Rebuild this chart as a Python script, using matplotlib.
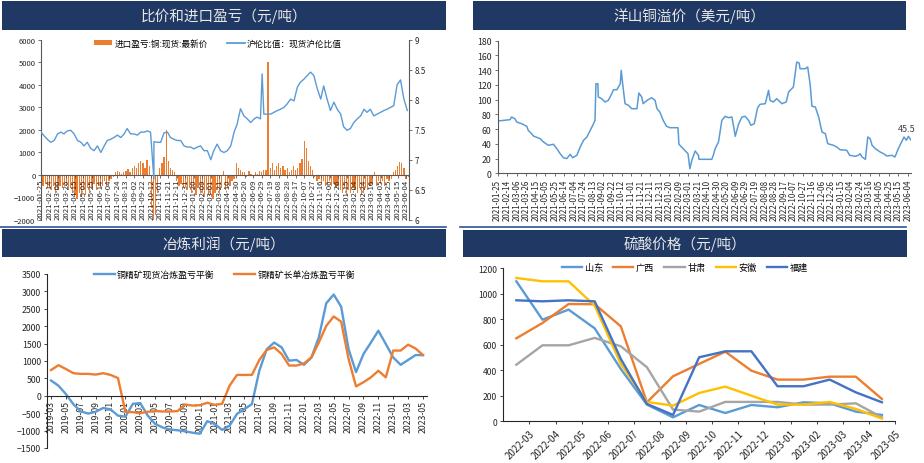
import numpy as np
import pandas as pd
import matplotlib
matplotlib.use('Agg')
import matplotlib.pyplot as plt
from matplotlib.lines import Line2D
from matplotlib.patches import Rectangle, Patch

plt.rcParams['font.family'] = ['Noto Sans CJK SC', 'DejaVu Sans']

# ---------------- data ----------------
# Panel 1: import profit (bars, 5-day samples) and SHFE/LME ratio (line)
profit_start = '2021-01-25'
profit_values = [
    -300, -500, -400, -600, -600, -700, -500, -800, -700, -500, -600, -400,
    -500, -700, -600, -800, -900, -1100, -800, -1000, -700, -900, -600, -800,
    -600, -400, -700, -500, -600, -500, -300, -500, -300, -200, -100, 100,
    150, 100, 50, 100, 150, 250, 100, 300, 400, 300, 500, 600,
    500, 300, 650, 400, -1500, -2000, -1800, -800, 300, 500, 800, 2000,
    600, 300, 200, 100, -300, -500, -400, -600, -500, -700, -600, -800,
    -700, -900, -600, -800, -800, -1000, -700, -900, -900, -1100, -800, -700,
    -800, -600, 150, -700, -600, -500, -300, -200, 500, 300, 200, 100,
    100, -100, 150, 50, -100, 100, 50, 150, 100, 200, 200, 5000,
    300, 500, 200, 400, 500, 300, 400, 200, 300, 100, 200, 400,
    200, 300, 500, 700, 1500, 1200, 600, 400, 200, -100, -300, -200,
    -400, -300, -500, -400, -300, -500, -400, -600, -500, -700, -800, -600,
    -900, -700, -800, -600, -700, -800, -600, -900, -800, -600, -700, -500,
    -400, 100, -500, -300, -400, -300, -500, -200, -300, -200, 100, 200,
    400, 550, 500, 300, -200, -100,
]
ratio_first, ratio_last = '2021-01-25', '2023-06-07'
ratio_values = [
    7.46, 7.40, 7.34, 7.29, 7.32, 7.43, 7.46, 7.43, 7.48, 7.49,
    7.43, 7.32, 7.29, 7.23, 7.29, 7.19, 7.15, 7.23, 7.12, 7.23,
    7.32, 7.34, 7.37, 7.41, 7.37, 7.43, 7.52, 7.43, 7.43, 7.41,
    7.46, 7.46, 7.48, 7.46, 7.30, 7.29, 7.29, 7.45, 7.46, 7.37,
    7.34, 7.32, 7.32, 7.23, 7.21, 7.21, 7.18, 7.21, 7.23, 7.15,
    7.15, 7.00, 7.15, 7.26, 7.15, 7.12, 7.15, 7.23, 7.46, 7.59,
    7.85, 7.73, 7.68, 7.62, 7.68, 7.71, 7.68, 7.76, 7.76, 7.76,
    7.79, 7.82, 7.84, 7.87, 7.93, 8.01, 7.98, 8.21, 8.29, 8.34,
    8.40, 8.46, 8.40, 8.18, 8.01, 8.23, 8.01, 7.82, 7.96, 7.84,
    7.76, 7.55, 7.49, 7.52, 7.62, 7.68, 7.73, 7.84, 7.79, 7.84,
    7.73, 7.76, 7.79, 7.82, 7.84, 7.87, 7.90, 8.25, 8.33, 8.01,
    7.82,
]
ratio_spike_dates = ['2021-10-18', '2022-06-30']
ratio_spike_values = [6.68, 8.43]

# Panel 2: Yangshan copper premium (USD/t)
premium_start = '2021-01-25'
premium_days = [
    0, 26, 29, 36, 40, 50, 61, 64, 71, 75, 89, 96, 106, 117, 124, 131, 138, 145, 152, 157,
    166, 173, 180, 187, 194, 201, 204, 206, 210, 211, 218, 225, 232, 239, 243, 250, 257, 259, 262, 267,
    274, 281, 292, 296, 302, 305, 313, 323, 330, 334, 340, 347, 354, 361, 378, 380, 389, 399, 403, 407,
    414, 421, 422, 433, 449, 452, 456, 463, 470, 477, 484, 491, 495, 498, 505, 512, 519, 526, 531, 538,
    545, 550, 561, 568, 571, 578, 585, 596, 605, 610, 620, 627, 632, 634, 645, 650, 655, 659, 666, 673,
    680, 687, 692, 704, 711, 718, 732, 738, 750, 756, 760, 764, 771, 776, 781, 785, 792, 802, 809, 816,
    827, 833, 840, 847, 852, 857, 861, 866,
]
premium_values = [
    71, 72.8, 76.4, 74, 69.6, 67.4, 63.8, 58.4, 53.8, 50.6, 47, 42.5, 38, 39.4, 33.4, 26.6, 21, 20, 25.8, 21.2,
    24.4, 35.7, 44.8, 49.3, 58.4, 67.3, 71.9, 121.6, 121.6, 103.6, 101.3, 96.8, 99, 108, 113.5, 113.5, 121.6, 139.8, 121.6, 94.5,
    92.3, 87.7, 87.7, 109, 103.6, 94.5, 99, 102.6, 99, 87.7, 83.2, 71.9, 63.8, 61.9, 61.9, 39.4, 33.4, 26.6, 6.3, 17.6,
    30.3, 24.4, 19, 19, 19, 24.4, 33.4, 42.5, 71.9, 77.4, 75.5, 76.4, 62.8, 50.2, 66.5, 76.4, 77.4, 71.9, 65.2, 67.3,
    89, 93.6, 94.5, 112.6, 99, 96.8, 101.3, 94.5, 96.8, 110.4, 117.1, 151, 149.7, 142, 142, 144.3, 121.6, 91, 90, 76.4,
    56, 53.8, 40.2, 38, 35.7, 32, 31.2, 24.4, 23.1, 24.4, 26.6, 22.1, 19, 49.3, 47, 38, 33.4, 28.9, 26.6, 23.5,
    24.4, 22.1, 33.4, 42.5, 49.3, 44.8, 50.2, 45.5,
]

# Panel 3: smelting profit (CNY/t), monthly
smelt_first, smelt_last = '2019-03', '2023-05'
spot_balance = [
    440, 290, 50, -240, -450, -510, -460, -350, -390, -570,
    -600, -230, -210, -570, -810, -910, -970, -990, -1020, -1060,
    -1090, -730, -810, -980, -860, -520, -380, -240, 720, 1340,
    1530, 1390, 1010, 1030, 890, 1100, 1680, 2660, 2910, 2560,
    1340, 680, 1200, 1530, 1870, 1490, 1100, 890, 1030, 1170,
    1170,
]
long_balance = [
    740, 880, 770, 650, 630, 630, 610, 650, 600, 510,
    -460, -470, -500, -460, -440, -450, -450, -440, -250, -280,
    -270, -200, -260, -230, 290, 600, 600, 600, 1030, 1320,
    1390, 1200, 870, 870, 930, 1100, 1530, 2010, 2280, 2130,
    1060, 270, 390, 530, 720, 530, 1300, 1300, 1470, 1360,
    1170,
]

# Panel 4: sulphuric acid prices (CNY/t)
acid_months = ['2022-03', '2022-04', '2022-05', '2022-06', '2022-07', '2022-08', '2022-09', '2022-10',
               '2022-11', '2022-12', '2023-01', '2023-02', '2023-03', '2023-04', '2023-05']
acid_names = ['山东', '广西', '甘肃', '安徽', '福建']
acid_shandong = [1098, 797, 876, 729, 410, 131, 31, 128, 65, 128, 110, 149, 141, 76, 50]
acid_guangxi = [651, 771, 920, 918, 745, 149, 353, 450, 546, 397, 327, 327, 350, 350, 175]
acid_gansu = [444, 596, 596, 654, 588, 424, 92, 76, 152, 152, 152, 131, 131, 141, 31]
acid_anhui = [1124, 1098, 1098, 907, 450, 152, 123, 222, 272, 201, 131, 131, 152, 97, 21]
acid_fujian = [949, 941, 949, 941, 489, 136, 50, 502, 549, 549, 275, 275, 327, 227, 149]

# ---------------- figure ----------------
W, H = 924, 464
fig = plt.figure(figsize=(W / 100, H / 100), dpi=100)
fig.patch.set_facecolor('white')

NAVY = '#1F3864'
BLUE = '#5B9BD5'
ORANGE = '#ED7D31'
GRAY = '#A5A5A5'
YELLOW = '#FFC000'
DBLUE = '#4472C4'
TXT = '#262626'
AX = '#595959'


def rect(l, t, r, b):
    return [l / W, 1 - b / H, (r - l) / W, (b - t) / H]


def title_bar(l, t, r, b, text):
    fig.patches.append(Rectangle((l / W, 1 - b / H), (r - l) / W, (b - t) / H,
                                 transform=fig.transFigure, facecolor=NAVY,
                                 edgecolor='none', zorder=0))
    fig.text((l + r) / 2 / W, 1 - (t + b) / 2 / H, text, color='#E8E8E8',
             fontsize=10.5, ha='center', va='center')


def hline(x0, x1, y, color='#2E5597', lw=1.2):
    fig.add_artist(Line2D([x0 / W, x1 / W], [1 - y / H, 1 - y / H],
                          transform=fig.transFigure, color=color, lw=lw))


title_bar(2, 2, 446, 30.5, '比价和进口盈亏（元/吨）')
title_bar(473, 2, 906, 30.5, '洋山铜溢价（美元/吨）')
title_bar(2, 230.5, 446, 258, '冶炼利润（元/吨）')
title_bar(463, 230.5, 906.5, 257.5, '硫酸价格（元/吨）')
hline(0, 446, 228.3)
hline(460, 906, 228.3)

t0 = pd.Timestamp('2021-01-25')
date_ticks = pd.date_range('2021-01-25', '2023-06-04', freq='20D')
tick_days = (date_ticks - t0).days
tick_labels = date_ticks.strftime('%Y-%m-%d')

# ---------- Panel 1 ----------
ax1 = fig.add_axes(rect(41, 40.7, 409, 220.7))
pdates = pd.date_range(profit_start, periods=len(profit_values), freq='5D')
px = (pdates - t0).days
ax1.bar(px, profit_values, width=3.0, color=ORANGE, linewidth=0, zorder=1)
ax1.set_xlim(0, 867)
ax1.set_ylim(-2000, 6000)
ax1.set_yticks(range(-2000, 6001, 1000))
ax1.tick_params(axis='y', labelsize=5.5, length=2.5, width=0.6, colors=AX, labelcolor=TXT, pad=1.5)
ax1.spines['bottom'].set_position(('data', 0))
for s in ['top', 'right']:
    ax1.spines[s].set_visible(False)
for s in ['left', 'bottom']:
    ax1.spines[s].set_color(AX)
    ax1.spines[s].set_linewidth(0.8)
ax1.set_xticks(tick_days)
ax1.set_xticklabels(tick_labels, rotation=90, fontsize=5.6, color=TXT)
ax1.tick_params(axis='x', length=2, width=0.6, colors=AX, labelcolor=TXT, pad=1)
ax1.patch.set_alpha(0)

ax1b = ax1.twinx()
rdates = pd.to_datetime(np.linspace(pd.Timestamp(ratio_first).value,
                                    pd.Timestamp(ratio_last).value, len(ratio_values)))
ratio = pd.Series(ratio_values, index=rdates)
spk = pd.Series(ratio_spike_values, index=pd.to_datetime(ratio_spike_dates))
ratio = pd.concat([ratio, spk]).sort_index()
ax1b.plot((ratio.index - t0).days, ratio.values, color=BLUE, lw=1.0)
ax1b.set_ylim(6, 9)
ax1b.set_yticks([6, 6.5, 7, 7.5, 8, 8.5, 9])
ax1b.set_yticklabels(['6', '6.5', '7', '7.5', '8', '8.5', '9'])
ax1b.tick_params(axis='y', labelsize=5.8, length=2.5, width=0.6, colors=AX, labelcolor=TXT, pad=1.5)
for s in ['top', 'left', 'bottom']:
    ax1b.spines[s].set_visible(False)
ax1b.spines['right'].set_color(AX)
ax1b.spines['right'].set_linewidth(0.8)

h1 = [Patch(facecolor=ORANGE, edgecolor='none'), Line2D([], [], color=BLUE, lw=1.3)]
fig.legend(h1, ['进口盈亏:铜:现货:最新价', '沪伦比值：现货沪伦比值'],
           loc='center', bbox_to_anchor=(218 / W, 1 - 44.5 / H), ncol=2, frameon=False,
           fontsize=6.2, handlelength=2.1, handleheight=0.5, columnspacing=2.2,
           handletextpad=0.25, borderpad=0)

# ---------- Panel 2 ----------
ax2 = fig.add_axes(rect(497.7, 41.7, 910.7, 174.3))
ax2.plot(premium_days, premium_values, color=BLUE, lw=1.1)
ax2.set_xlim(0, 866)
ax2.set_ylim(0, 180)
ax2.set_yticks(range(0, 181, 20))
ax2.tick_params(axis='y', labelsize=6.3, length=2.5, width=0.6, colors=AX, labelcolor=TXT, pad=2)
ax2.set_xticks(tick_days)
ax2.set_xticklabels(tick_labels, rotation=90, fontsize=5.8, color=TXT)
ax2.tick_params(axis='x', length=2.5, width=0.6, colors=AX, labelcolor=TXT, pad=1.5)
for s in ['top', 'right']:
    ax2.spines[s].set_visible(False)
for s in ['left', 'bottom']:
    ax2.spines[s].set_color(AX)
    ax2.spines[s].set_linewidth(0.8)
ax2.annotate(f'{premium_values[-1]:g}', (premium_days[-1], premium_values[-1]),
             xytext=(-3, 5), textcoords='offset points', ha='center', va='bottom',
             fontsize=6.5, color='#404040')

# ---------- Panel 3 ----------
ax3 = fig.add_axes(rect(47.3, 275, 426.7, 449))
smonths = pd.period_range(smelt_first, smelt_last, freq='M').strftime('%Y-%m')
sx = np.arange(len(smonths))
ax3.plot(sx, spot_balance, color=BLUE, lw=1.7, label='铜精矿现货冶炼盈亏平衡')
ax3.plot(sx, long_balance, color=ORANGE, lw=1.7, label='铜精矿长单冶炼盈亏平衡')
ax3.set_xlim(-0.5, len(smonths) - 0.5)
ax3.set_ylim(-1500, 3500)
ax3.set_yticks(range(-1500, 3501, 500))
ax3.tick_params(axis='y', labelsize=6.3, length=2.5, width=0.6, colors='#262626', labelcolor=TXT, pad=2)
ax3.spines['bottom'].set_position(('data', 0))
for s in ['top', 'right']:
    ax3.spines[s].set_visible(False)
for s in ['left', 'bottom']:
    ax3.spines[s].set_color('#262626')
    ax3.spines[s].set_linewidth(0.8)
ax3.set_xticks(sx[::2])
ax3.set_xticklabels(smonths[::2], rotation=90, fontsize=6.3, color=TXT)
ax3.tick_params(axis='x', length=2, width=0.6, colors='#262626', labelcolor=TXT, pad=1)
ax3.patch.set_alpha(0)
fig.legend(*ax3.get_legend_handles_labels(), loc='center',
           bbox_to_anchor=(224.5 / W, 1 - 275.5 / H), ncol=2, frameon=False,
           fontsize=6.4, handlelength=2.35, columnspacing=2.2, handletextpad=0.25, borderpad=0)

# ---------- Panel 4 ----------
ax4 = fig.add_axes(rect(503.3, 269.3, 895, 422.3))
ax_x = np.arange(len(acid_months))
for name, vals, col in zip(acid_names,
                           [acid_shandong, acid_guangxi, acid_gansu, acid_anhui, acid_fujian],
                           [BLUE, ORANGE, GRAY, YELLOW, DBLUE]):
    ax4.plot(ax_x, vals, color=col, lw=1.7, label=name)
ax4.set_xlim(-0.5, len(acid_months) - 0.5)
ax4.set_ylim(0, 1200)
ax4.set_yticks(range(0, 1201, 200))
ax4.tick_params(axis='y', labelsize=6.2, length=2.5, width=0.6, colors='#262626', labelcolor=TXT, pad=2)
ax4.set_xticks(ax_x + 0.5)
ax4.set_xticklabels(acid_months, rotation=45, ha='right', rotation_mode='anchor',
                    fontsize=7, color=TXT)
ax4.tick_params(axis='x', length=2.5, width=0.6, colors='#262626', labelcolor=TXT, pad=2)
for s in ['top', 'right']:
    ax4.spines[s].set_visible(False)
for s in ['left', 'bottom']:
    ax4.spines[s].set_color('#262626')
    ax4.spines[s].set_linewidth(0.8)
fig.legend(*ax4.get_legend_handles_labels(), loc='center',
           bbox_to_anchor=(685 / W, 1 - 268.5 / H), ncol=5, frameon=False,
           fontsize=6.6, handlelength=2.2, columnspacing=1.1, handletextpad=0.3, borderpad=0)

fig.savefig('out.png', dpi=100, facecolor='white')
